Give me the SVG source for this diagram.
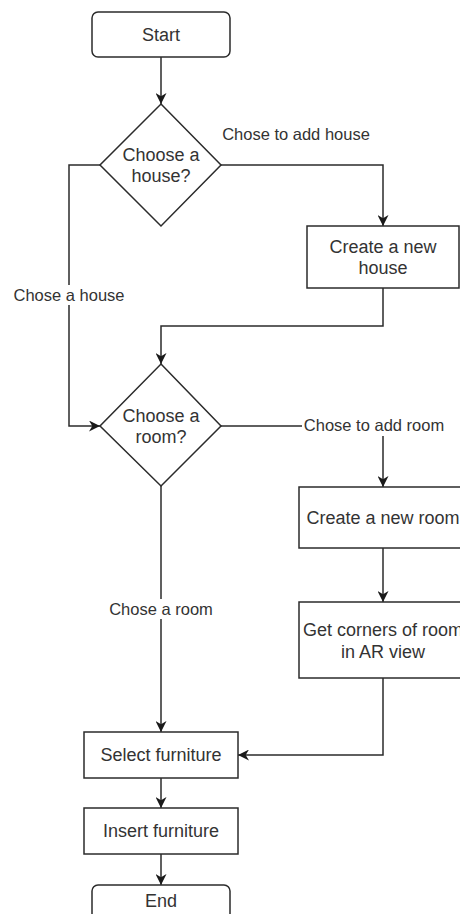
<svg xmlns="http://www.w3.org/2000/svg" width="460" height="914" viewBox="0 0 460 914">
  <style>
    .box { fill: #ffffff; stroke: #2b2b2b; stroke-width: 1.5; }
    .edge { fill: none; stroke: #2b2b2b; stroke-width: 1.5; }
    .txt { font-family: "Liberation Sans", Arial, sans-serif; font-size: 18px; fill: #333333; text-anchor: middle; }
    .lbl { font-family: "Liberation Sans", Arial, sans-serif; font-size: 16.5px; fill: #333333; text-anchor: middle; }
    .lblbg { fill: #ffffff; }
  </style>
  <defs>
    <marker id="arrow" viewBox="0 0 10 10" refX="10" refY="5" markerWidth="11" markerHeight="11" markerUnits="userSpaceOnUse" orient="auto">
      <path d="M0,0 L10,5 L0,10 L3,5 z" fill="#1a1a1a"/>
    </marker>
  </defs>

  <rect width="460" height="914" fill="#ffffff"/>

  <!-- connectors -->
  <g id="connectors">
    <path class="edge" d="M161,57 V104" marker-end="url(#arrow)"/>
    <path class="edge" d="M221,165 H383 V226" marker-end="url(#arrow)"/>
    <path class="edge" d="M100,165 H69 V426 H100" marker-end="url(#arrow)"/>
    <path class="edge" d="M383,288 V326 H161 V364" marker-end="url(#arrow)"/>
    <path class="edge" d="M221,426 H383 V487" marker-end="url(#arrow)"/>
    <path class="edge" d="M383,548 V602" marker-end="url(#arrow)"/>
    <path class="edge" d="M383,678 V755 H238" marker-end="url(#arrow)"/>
    <path class="edge" d="M161,486 V732" marker-end="url(#arrow)"/>
    <path class="edge" d="M161,778 V808" marker-end="url(#arrow)"/>
    <path class="edge" d="M161,854 V885" marker-end="url(#arrow)"/>

    <!-- edge labels -->
    <g id="label-add-house">
      <text class="lbl" x="296" y="140">Chose to add house</text>
    </g>
    <g id="label-chose-house">
      <rect class="lblbg" x="11" y="285" width="116" height="20"/>
      <text class="lbl" x="69" y="301">Chose a house</text>
    </g>
    <g id="label-add-room">
      <rect class="lblbg" x="302" y="416" width="145" height="20"/>
      <text class="lbl" x="374" y="431">Chose to add room</text>
    </g>
    <g id="label-chose-room">
      <rect class="lblbg" x="106" y="599" width="110" height="20"/>
      <text class="lbl" x="161" y="615">Chose a room</text>
    </g>
  </g>

  <!-- nodes -->
  <g id="start">
    <rect class="box" x="92" y="12" width="138" height="45" rx="6"/>
    <text class="txt" x="161" y="41">Start</text>
  </g>

  <g id="choose-house">
    <path class="box" d="M161,104 L221,165 L161,226 L100,165 Z"/>
    <text class="txt" x="161" y="161">Choose a</text>
    <text class="txt" x="161" y="182">house?</text>
  </g>

  <g id="create-house">
    <rect class="box" x="307" y="226" width="152" height="62"/>
    <text class="txt" x="383" y="253">Create a new</text>
    <text class="txt" x="383" y="274">house</text>
  </g>

  <g id="choose-room">
    <path class="box" d="M161,364 L221,426 L161,486 L100,426 Z"/>
    <text class="txt" x="161" y="422">Choose a</text>
    <text class="txt" x="161" y="443">room?</text>
  </g>

  <g id="create-room">
    <rect class="box" x="299" y="487" width="168" height="61"/>
    <text class="txt" x="383" y="524">Create a new room</text>
  </g>

  <g id="get-corners">
    <rect class="box" x="299" y="602" width="168" height="76"/>
    <text class="txt" x="383" y="636">Get corners of room</text>
    <text class="txt" x="383" y="658">in AR view</text>
  </g>

  <g id="select-furniture">
    <rect class="box" x="84" y="732" width="154" height="46"/>
    <text class="txt" x="161" y="761">Select furniture</text>
  </g>

  <g id="insert-furniture">
    <rect class="box" x="84" y="808" width="154" height="46"/>
    <text class="txt" x="161" y="837">Insert furniture</text>
  </g>

  <g id="end">
    <rect class="box" x="92" y="885" width="138" height="45" rx="6"/>
    <text class="txt" x="161" y="907">End</text>
  </g>
</svg>
